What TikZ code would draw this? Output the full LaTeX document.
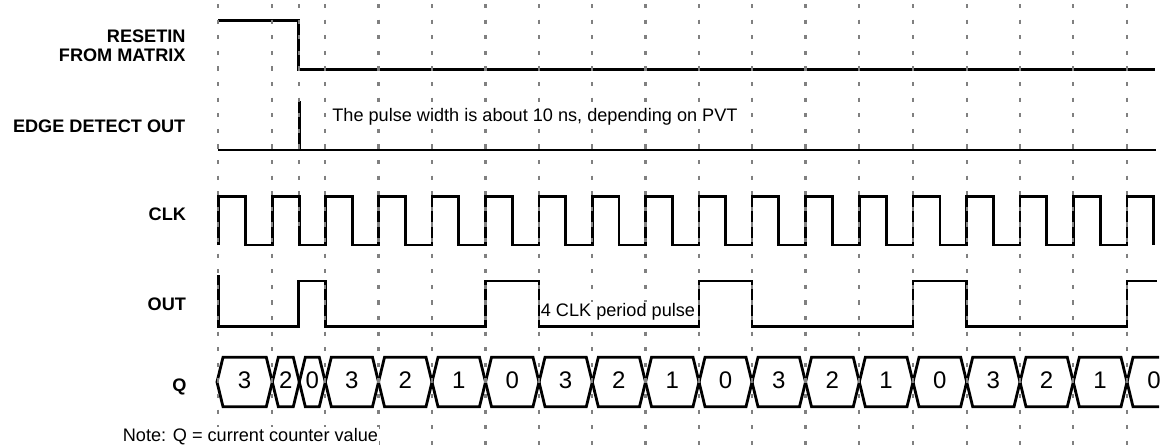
\documentclass[tikz,border=0pt]{standalone}
\usepackage{fontspec}
\setmainfont{Liberation Sans}
\usetikzlibrary{calc}
\definecolor{gridgray}{RGB}{128,128,128}
\tikzset{
  wave/.style={line width=2.1pt, black, line join=miter},
  gridline/.style={line width=1.6pt, gridgray, dash pattern=on 3.2pt off 8.5pt},
  siglabel/.style={anchor=base east, inner sep=0pt, outer sep=0pt, font=\bfseries\fontsize{13.6pt}{16pt}\selectfont},
  annot/.style={anchor=base west, inner xsep=1pt, inner ysep=1pt, outer sep=0pt, fill=white, font=\fontsize{13.6pt}{16pt}\selectfont},
  qval/.style={anchor=base, inner sep=0pt, font=\fontsize{18pt}{20pt}\selectfont}
}
\begin{document}
\begin{tikzpicture}[x=0.75pt, y=-0.75pt]
\useasboundingbox[fill=white] (0,0) rectangle (1166,446);

% RESETIN FROM MATRIX
\draw[wave] (218.3,20.3) -- (298.3,20.3) -- (298.3,69.3) -- (1155,69.3);
% EDGE DETECT OUT
\draw[wave] (218.3,150) -- (1155.5,150);
\draw[wave] (299.3,101) -- (299.3,150);
% CLK
\draw[wave] (218.3,245)
  \foreach \a/\m/\b in {218.3/245.8/272.3, 272.3/299.3/325.3, 325.3/352.3/378.5, 378.5/405.3/432,
      432/458.8/485.5, 485.5/512.3/539, 539/565.7/592.3, 592.3/618.9/645.5, 645.5/672.3/699,
      699/725.5/752, 752/778.8/805.5, 805.5/832.4/859.3, 859.3/886.2/913, 913/939.9/966.7,
      966.7/993.4/1020, 1020/1046.7/1073.3, 1073.3/1100.2/1127}
  { -- (\a,196.7) -- (\m,196.7) -- (\m,245) -- (\b,245) }
  -- (1127,196.7) -- (1153.3,196.7) -- (1153.3,245);
% OUT
\draw[wave] (218.3,275) -- (218.3,326.5) -- (298.3,326.5) -- (298.3,281) -- (325.3,281)
  -- (325.3,326.5) -- (485.5,326.5) -- (485.5,281) -- (539,281) -- (539,326.5)
  -- (699,326.5) -- (699,281) -- (752,281) -- (752,326.5) -- (913,326.5) -- (913,281)
  -- (966.7,281) -- (966.7,326.5) -- (1127,326.5) -- (1127,281) -- (1156.7,281);
% Q bus
\foreach \a/\b/\v [count=\n] in {217/272.3/3, 272.3/299.3/2, 299.3/325.3/0, 325.3/378.5/3,
    378.5/432/2, 432/485.5/1, 485.5/539/0, 539/592.3/3, 592.3/645.5/2, 645.5/699/1,
    699/752/0, 752/805.5/3, 805.5/859.3/2, 859.3/913/1, 913/966.7/0, 966.7/1020/3,
    1020/1073.3/2, 1073.3/1127/1}
{
  \draw[wave] (\a,382) -- ({\a+6},357.3) -- ({\b-6},357.3) -- (\b,382) -- ({\b-6},406.7) -- ({\a+6},406.7) -- cycle;
  \node[qval] (qv\n) at ({(\a+\b)/2},388.5) {\v};
}
\draw[wave] (1159,357.3) -- (1133,357.3) -- (1127,382) -- (1133,406.7) -- (1159,406.7);
\node[qval] (qvlast) at (1154,388.5) {0};

% grid lines
\foreach \x in {218.3, 272.3, 325.3, 378.5, 432, 485.5, 539, 592.3, 645.5, 699, 752,
    805.5, 859.3, 913, 966.7, 1020, 1073.3, 1127}
  \draw[gridline] (\x,4) -- (\x,446);
\draw[gridline] (299.3,4) -- (299.3,226);

% signal labels
\node[siglabel] (lresetA) at (185.5,42.3) {RESETIN};
\node[siglabel] (lresetB) at (185.5,61) {FROM MATRIX};
\node[siglabel] (ledge) at (185.3,132.3) {EDGE DETECT OUT};
\node[siglabel] (lclk) at (186,220.7) {CLK};
\node[siglabel] (lout) at (186,310) {OUT};
\node[siglabel] (lq) at (186.5,391) {Q};

% annotations
\node[annot] (pulsew) at (331,121) {The pulse width is about 10 ns, depending on PVT};
\node[annot] (fourclk) at (539.5,316) {4 CLK period pulse};
\node[annot] (note) at (121.5,441.7) {Note: Q = current counter value};
\end{tikzpicture}
\end{document}
